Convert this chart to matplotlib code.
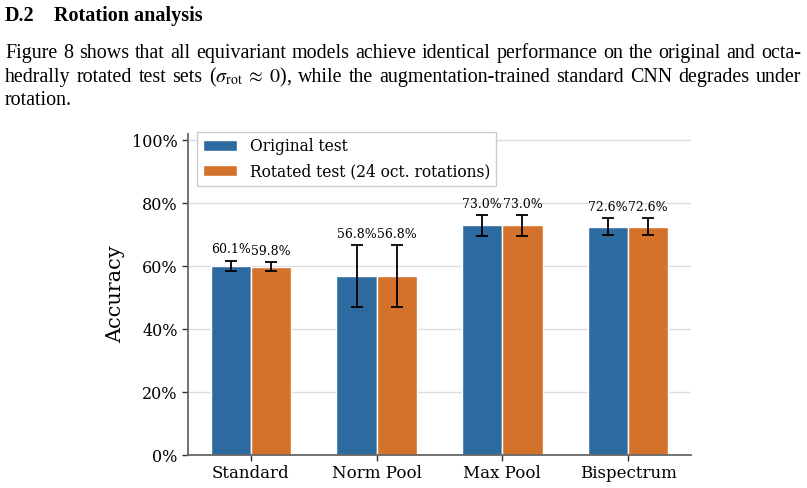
import matplotlib
matplotlib.use("Agg")
import matplotlib.pyplot as plt
import numpy as np

# ---- data ----
categories = ["Standard", "Norm Pool", "Max Pool", "Bispectrum"]
original = [60.1, 56.8, 73.0, 72.6]
rotated = [59.8, 56.8, 73.0, 72.6]
original_err = [1.7, 9.9, 3.3, 2.7]
rotated_err = [1.4, 9.9, 3.3, 2.7]
series_labels = ["Original test", "Rotated test (24 oct. rotations)"]
yticks = [0, 20, 40, 60, 80, 100]

heading_num = "D.2"
heading_title = "Rotation analysis"
para_lines = [
    "Figure 8 shows that all equivariant models achieve identical performance on the original and octa-",
    r"hedrally rotated test sets ($\sigma_{\mathrm{rot}}\;\approx\;0$), while the augmentation-trained standard CNN degrades under",
    "rotation.",
]

W, H = 807, 488
plt.rcParams["mathtext.fontset"] = "stix"
fig = plt.figure(figsize=(W / 100, H / 100), dpi=100)
renderer = fig.canvas.get_renderer()

serif_txt = dict(family="Liberation Serif")

# heading
fig.text(5 / W, 1 - 21 / H, heading_num, fontsize=14.5, fontweight="bold", va="baseline", **serif_txt)
fig.text(54 / W, 1 - 21 / H, heading_title, fontsize=14.5, fontweight="bold", va="baseline", **serif_txt)


def justify(line, y_px, x0, x1, justify_it=True, fs=14.4):
    words = line.split(" ")
    merged = []
    buf = ""
    for w in words:
        if buf:
            buf += " " + w
            if buf.count("$") % 2 == 0:
                merged.append(buf)
                buf = ""
        elif w.count("$") % 2 == 1:
            buf = w
        else:
            merged.append(w)
    texts = [fig.text(0, 1 - y_px / H, w, fontsize=fs, va="baseline", **serif_txt) for w in merged]
    widths = [t.get_window_extent(renderer).width for t in texts]
    if justify_it and len(texts) > 1:
        gap = (x1 - x0 - sum(widths)) / (len(texts) - 1)
    else:
        gap = fs * 0.25 * 100 / 72
    x = x0
    for t, w in zip(texts, widths):
        t.set_x(x / W)
        x += w + gap


justify(para_lines[0], 58, 5, 801)
justify(para_lines[1], 82, 5, 801)
justify(para_lines[2], 105, 5, 801, justify_it=False)

# ---- chart ----
ax = fig.add_axes([188 / W, 1 - 455 / H, (691 - 188) / W, (455 - 134) / H])
x = np.arange(len(categories))
w = 0.32
blue = "#2D6A9F"
orange = "#D4722B"

ax.set_axisbelow(True)
ax.yaxis.grid(True, color="#dddddd", linewidth=1.0)

ax.bar(x - w / 2, original, w, color=blue, edgecolor="white", linewidth=1.0,
       yerr=original_err, capsize=4,
       error_kw=dict(ecolor="black", elinewidth=1.3, capthick=1.3),
       label=series_labels[0])
ax.bar(x + w / 2, rotated, w, color=orange, edgecolor="white", linewidth=1.0,
       yerr=rotated_err, capsize=4,
       error_kw=dict(ecolor="black", elinewidth=1.3, capthick=1.3),
       label=series_labels[1])

for xs, vals, errs in [(x - w / 2, original, original_err), (x + w / 2, rotated, rotated_err)]:
    for xi, v, e in zip(xs, vals, errs):
        ax.annotate(f"{v:.1f}%", (xi, v + e), xytext=(0, 3), textcoords="offset points",
                    ha="center", va="bottom", fontsize=9, family="DejaVu Serif")

ax.set_xlim(-0.5, 3.5)
ax.set_ylim(0, 102)
ax.set_xticks(x)
ax.set_xticklabels(categories, fontsize=12, family="DejaVu Serif")
ax.set_yticks(yticks)
ax.set_yticklabels([f"{t}%" for t in yticks], fontsize=11.5, family="DejaVu Serif")
ax.set_ylabel("Accuracy", fontsize=15, family="DejaVu Serif", labelpad=5)

for s in ["top", "right"]:
    ax.spines[s].set_visible(False)
for s in ["left", "bottom"]:
    ax.spines[s].set_color("#666666")
    ax.spines[s].set_linewidth(1.3)
ax.tick_params(axis="both", color="#333333", length=4, width=1.0)

leg = ax.legend(loc="upper left", bbox_to_anchor=(9 / 503, 1 + 2 / 321),
                prop=dict(family="DejaVu Serif", size=11.2),
                frameon=True, fancybox=False, edgecolor="#cccccc", framealpha=1.0,
                borderaxespad=0.0, handlelength=2.2, handleheight=0.7)
leg.get_frame().set_linewidth(1.0)

fig.savefig("out.png", dpi=100)
